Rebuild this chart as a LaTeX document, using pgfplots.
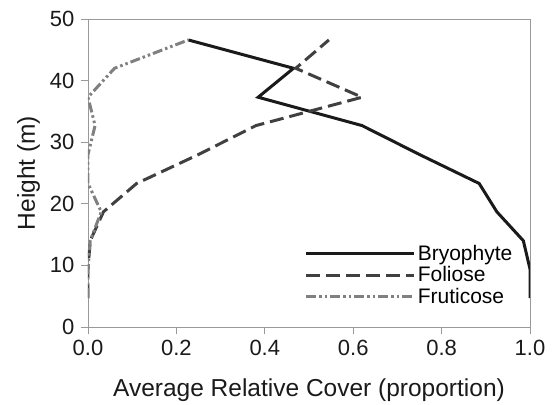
\documentclass[border=0pt]{standalone}
\usepackage{fontspec}
\setmainfont{Liberation Sans}
\usepackage{pgfplots}
\pgfplotsset{compat=1.18}
\usetikzlibrary{calc}

\definecolor{bryo}{HTML}{1A1A1A}
\definecolor{foli}{HTML}{404040}
\definecolor{frut}{HTML}{808080}
\definecolor{frame}{HTML}{999999}

\begin{document}
\begin{tikzpicture}
\begin{axis}[
    name=ax,
    scale only axis,
    width=442pt, height=308pt,
    xmin=0, xmax=1, ymin=0, ymax=50,
    xtick={0,0.2,...,1.0},
    ytick={0,10,...,50},
    /pgf/number format/assume math mode=true,
    tick label style={font=\fontsize{22}{25}\selectfont, text=bryo},
    xticklabel style={yshift=-3pt, /pgf/number format/.cd, fixed, fixed zerofill, precision=1},
    yticklabel style={xshift=-3pt},
    label style={font=\fontsize{24.5}{28}\selectfont, text=bryo},
    xlabel={Average Relative Cover (proportion)},
    ylabel={Height (m)},
    xlabel style={at={(axis description cs:0.5,-0.225)}, anchor=base},
    ylabel style={at={(axis description cs:-0.12,0.5)}, anchor=base},
    axis line style={frame, line width=0.9pt},
    tick style={frame, line width=0.9pt},
    tick align=outside,
    major tick length=7pt,
    xtick pos=bottom, ytick pos=left,
    legend cell align=left,
    legend style={draw=none, fill=none, inner sep=0pt, at={(0.49,0.272)}, anchor=north west,
        font=\fontsize{21}{24}\selectfont, row sep=0.5pt},
    legend image code/.code={\draw[#1] (0pt,0pt) -- (90pt,0pt); \path (0pt,0pt) -- (108pt,0pt);},
]

% Bryophyte
\addplot[bryo, line width=3pt, line join=miter] coordinates {
    (1.000, 4.7) (1.000, 9.4) (0.985, 14.0) (0.925, 18.7) (0.885, 23.3)
    (0.750, 28.0) (0.620, 32.7) (0.385, 37.3) (0.465, 42.0) (0.227, 46.6)
};

% Foliose
\addplot[foli, line width=3pt, dash pattern=on 14pt off 6pt] coordinates {
    (0.000, 4.7) (0.000, 9.4) (0.005, 14.0) (0.035, 18.7) (0.110, 23.3)
    (0.250, 28.0) (0.380, 32.7) (0.620, 37.3) (0.470, 42.0) (0.545, 46.6)
};

% Fruticose
\addplot[frut, line width=3pt, dash pattern=on 10pt off 3pt on 2.5pt off 3pt on 2.5pt off 3pt] coordinates {
    (0.000, 4.7) (0.000, 9.4) (0.005, 14.0) (0.030, 18.7) (0.000, 23.3)
    (0.000, 28.0) (0.016, 32.7) (0.000, 37.3) (0.060, 42.0) (0.227, 46.6)
};

\legend{Bryophyte, Foliose, Fruticose}
\end{axis}
\path ($(ax.south west)+(-88pt,-74pt)$) rectangle ($(ax.north east)+(22pt,19pt)$);
\end{tikzpicture}
\end{document}
